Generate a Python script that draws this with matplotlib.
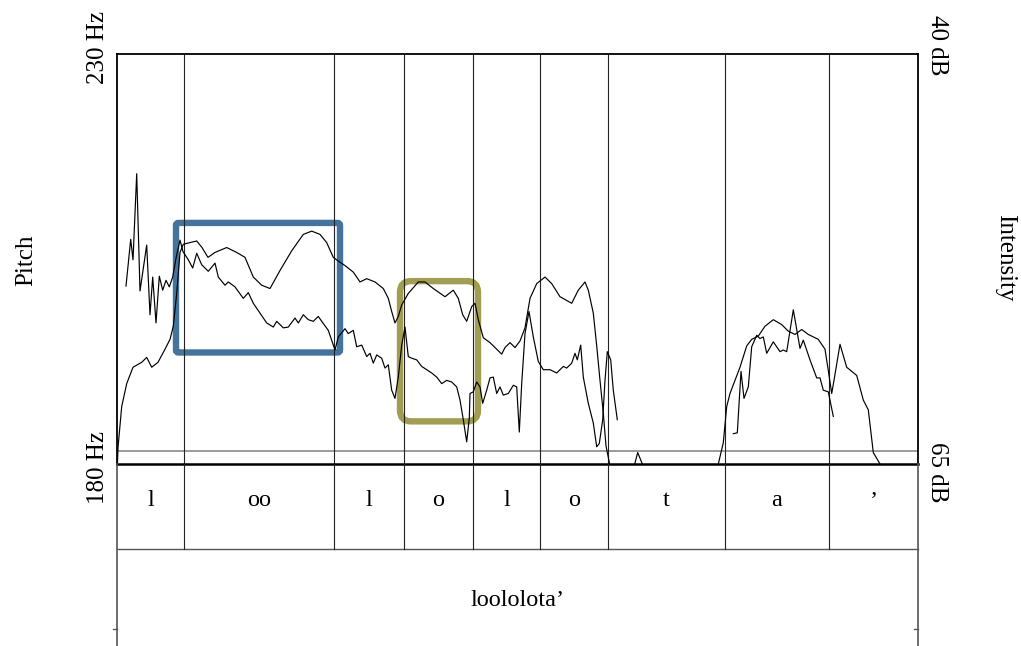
import matplotlib
matplotlib.use("Agg")
import matplotlib.pyplot as plt
from matplotlib.patches import FancyBboxPatch
from matplotlib.transforms import IdentityTransform

plt.rcParams['font.family'] = ['Liberation Serif', 'DejaVu Serif']

# ---------------- data ----------------
t_end = 0.801
boundaries = [0.067, 0.217, 0.287, 0.356, 0.423, 0.491, 0.608, 0.712]
phonemes = ["l", "oo", "l", "o", "l", "o", "t", "a", "\u2019"]
word = "loololota\u2019"

pitch1_t = [0.009, 0.0137, 0.016, 0.0197, 0.023, 0.0297, 0.033, 0.0357, 0.039, 0.0423,
            0.0457, 0.049, 0.0523, 0.0557, 0.059, 0.063, 0.066, 0.0713, 0.0757, 0.0797,
            0.0847, 0.0913, 0.098, 0.1013, 0.108, 0.1113, 0.118, 0.1263, 0.1313, 0.1363,
            0.143, 0.1497, 0.1563, 0.1597, 0.1663, 0.1713, 0.178, 0.1813, 0.1863, 0.1913,
            0.1963, 0.2013, 0.2047, 0.2113, 0.218, 0.2213, 0.228, 0.2313, 0.2363, 0.2397,
            0.2447, 0.2497, 0.253, 0.2563, 0.2597, 0.2647, 0.268, 0.2713, 0.2747, 0.278,
            0.2813, 0.2847, 0.288, 0.2913, 0.2947, 0.2997, 0.3047, 0.3097, 0.3147, 0.3197,
            0.3247, 0.3297, 0.3347, 0.3397, 0.343, 0.3463, 0.3497, 0.3523, 0.353, 0.3563,
            0.3597, 0.363, 0.3657, 0.3697, 0.373, 0.3763, 0.3797, 0.383, 0.3863, 0.3913,
            0.3963, 0.3997, 0.4023, 0.4047, 0.408, 0.412, 0.4163, 0.4213, 0.4263, 0.433,
            0.4397, 0.4463, 0.4497, 0.4547, 0.458, 0.4603, 0.4637, 0.4663, 0.4713, 0.4763,
            0.4797, 0.4823, 0.4857, 0.488, 0.4903, 0.4937, 0.4963, 0.5003]
pitch1_hz = [201.7, 207.4, 204.9, 215.4, 201.1, 206.7, 198.2, 202.8, 197.2, 202.9,
             201.2, 202.4, 201.6, 202.8, 205.1, 207.3, 205.9, 204.9, 203.9, 205.7,
             204.3, 203.5, 204.5, 202.8, 201.8, 202.2, 201.6, 200.2, 200.9, 199.6,
             198.4, 197.2, 196.7, 197.4, 196.6, 196.7, 197.8, 197.2, 198.2, 197.6,
             197.4, 198.0, 197.4, 196.3, 193.9, 195.5, 196.5, 195.9, 196.3, 194.3,
             194.5, 193.1, 193.5, 192.3, 193.3, 192.9, 191.7, 192.1, 189.0, 188.0,
             190.6, 194.5, 196.7, 193.1, 192.9, 192.7, 191.9, 191.5, 191.1, 190.6,
             189.8, 190.2, 190.0, 189.4, 187.8, 185.4, 182.7, 185.6, 188.6, 188.8,
             190.0, 189.4, 187.4, 189.0, 190.5, 190.6, 188.6, 189.4, 188.4, 188.6,
             189.6, 189.4, 183.9, 189.8, 195.9, 198.6, 195.5, 192.5, 191.5, 191.5,
             191.1, 191.9, 191.7, 192.3, 193.5, 192.7, 194.5, 190.6, 187.4, 185.0,
             182.1, 182.5, 185.4, 190.2, 193.7, 192.7, 189.0, 185.4]

pitch2_t = [0.6163, 0.6203, 0.624, 0.627, 0.6313, 0.6347, 0.6397, 0.643, 0.6463, 0.6497,
            0.6563, 0.663, 0.6663, 0.6697, 0.6763, 0.683, 0.6863, 0.693, 0.6997, 0.703,
            0.7063, 0.7113, 0.7163]
pitch2_hz = [183.7, 183.8, 191.3, 188.0, 189.4, 194.3, 195.7, 195.3, 195.5, 193.5,
             194.9, 193.7, 193.9, 193.7, 198.8, 194.1, 195.1, 192.7, 190.5, 190.5,
             189.0, 188.8, 185.8]

int_t = [0.0005, 0.001, 0.0047, 0.0097, 0.016, 0.0247, 0.0297, 0.0347, 0.041, 0.048,
         0.053, 0.0563, 0.0597, 0.063, 0.0663, 0.073, 0.0797, 0.085, 0.091, 0.098,
         0.1097, 0.1197, 0.128, 0.1363, 0.1447, 0.153, 0.163, 0.1747, 0.1863, 0.1947,
         0.203, 0.2097, 0.2163, 0.223, 0.228, 0.2363, 0.243, 0.2497, 0.258, 0.2663,
         0.2713, 0.2747, 0.278, 0.2813, 0.2847, 0.2913, 0.3013, 0.308, 0.3163, 0.328,
         0.3363, 0.3413, 0.3457, 0.3497, 0.3547, 0.358, 0.3613, 0.3663, 0.373, 0.3797,
         0.3847, 0.388, 0.393, 0.398, 0.403, 0.408, 0.413, 0.4197, 0.428, 0.4347,
         0.443, 0.4547, 0.4613, 0.468, 0.4713, 0.4763, 0.4797, 0.483, 0.4863, 0.489,
         0.4923, 0.495, 0.516, 0.5207, 0.528, 0.599, 0.6013, 0.6063, 0.6097, 0.613,
         0.618, 0.623, 0.6297, 0.6347, 0.6413, 0.648, 0.6563, 0.6647, 0.6713, 0.678,
         0.6847, 0.6913, 0.7013, 0.708, 0.7113, 0.7147, 0.717, 0.723, 0.7297, 0.7397,
         0.7463, 0.7513, 0.7563, 0.763, 0.767]
int_db = [64.9, 64.0, 61.5, 60.1, 59.1, 58.8, 58.5, 59.1, 58.8, 58.0,
          57.4, 56.6, 54.6, 52.1, 51.6, 51.5, 51.4, 51.8, 52.4, 52.1,
          51.8, 52.1, 52.4, 53.6, 54.1, 54.3, 53.2, 52.0, 51.0, 50.8,
          51.0, 51.5, 52.4, 52.7, 52.9, 53.3, 53.9, 53.7, 53.9, 54.3,
          54.9, 55.7, 56.4, 56.0, 55.3, 54.6, 53.9, 53.9, 54.3, 54.8,
          54.4, 54.9, 55.9, 56.3, 55.4, 55.2, 56.2, 57.3, 57.6, 58.0,
          58.3, 57.9, 57.6, 57.9, 57.5, 56.7, 54.9, 54.0, 53.6, 54.0,
          54.8, 55.2, 54.4, 53.9, 54.4, 55.8, 57.8, 59.9, 61.9, 63.9,
          64.9, 66.0, 65.4, 64.3, 65.4, 66.0, 65.0, 63.7, 61.5, 60.7,
          59.9, 59.1, 57.8, 57.4, 57.2, 56.6, 56.2, 56.5, 56.9, 57.1,
          56.8, 57.1, 57.4, 58.0, 59.3, 60.7, 59.9, 57.7, 59.1, 59.6,
          61.1, 61.7, 64.3, 65.0, 66.0]

pitch_range = (180, 230)
int_range = (65, 40)
ref_line_hz = 181.6

# highlight boxes (time range, Hz range)
blue_box = (0.059, 0.223, 193.6, 209.4)
olive_box = (0.283, 0.361, 185.2, 202.3)

# ---------------- figure ----------------
W, H = 1021, 646
fig = plt.figure(figsize=(W / 100, H / 100), dpi=100)
L, R, T, B = 117, 918, 54, 464
ax = fig.add_axes([L / W, 1 - B / H, (R - L) / W, (B - T) / H])
ax.set_xlim(0, t_end)
ax.set_ylim(*pitch_range)
ax.set_xticks([]); ax.set_yticks([])
for s in ax.spines.values():
    s.set_linewidth(1.3)
    s.set_color('black')
ax.spines['bottom'].set_linewidth(1.8)

ax.axhline(ref_line_hz, color='#808080', lw=1.1, zorder=1)
for b in boundaries:
    ax.axvline(b, color='#222222', lw=0.8, zorder=1.5)

ax.plot(pitch1_t, pitch1_hz, color='black', lw=0.85, zorder=3)
ax.plot(pitch2_t, pitch2_hz, color='black', lw=0.85, zorder=3)

ax2 = ax.twinx()
ax2.set_ylim(*int_range)
ax2.set_yticks([])
for s in ax2.spines.values():
    s.set_visible(False)
ax2.plot(int_t, int_db, color='black', lw=0.85, zorder=3)

# boxes drawn in pixel space (after layout is fixed)
fig.canvas.draw()
def add_box(box, color, radius, lw):
    x0, x1, y0, y1 = box
    (px0, py0), (px1, py1) = ax.transData.transform([(x0, y0), (x1, y1)])
    p = FancyBboxPatch((px0, py0), px1 - px0, py1 - py0,
                       boxstyle=f"round,pad=0,rounding_size={radius}",
                       transform=IdentityTransform(), fill=False,
                       edgecolor=color, lw=lw, zorder=0.8, clip_on=False)
    ax.add_patch(p)
add_box(blue_box, '#44749D', 2.5, 4.6)
add_box(olive_box, '#A19D52', 11, 4.6)

# ---------------- tiers ----------------
axt = fig.add_axes([L / W, 0, (R - L) / W, (H - B) / H])
axt.set_xlim(0, t_end)
axt.set_ylim(0, H - B)
axt.axis('off')
tier_split = H - 549
tier_col = '#555555'
axt.plot([0, t_end], [tier_split, tier_split], color=tier_col, lw=1.0, clip_on=False)
axt.plot([0, 0], [0, H - B], color=tier_col, lw=1.2, clip_on=False)
axt.plot([t_end, t_end], [0, H - B], color=tier_col, lw=1.2, clip_on=False)
tick_len = 0.004
axt.plot([-tick_len, 0], [H - 629, H - 629], color=tier_col, lw=1.0, clip_on=False)
axt.plot([t_end - tick_len, t_end], [H - 629, H - 629], color=tier_col, lw=1.0, clip_on=False)
for b in boundaries:
    axt.plot([b, b], [tier_split, H - B], color='#222222', lw=0.8, clip_on=False)
edges = [0] + boundaries + [t_end]
for i, ph in enumerate(phonemes):
    axt.text((edges[i] + edges[i + 1]) / 2, H - 501, ph, ha='center', va='center', fontsize=17.5)
axt.text(t_end / 2, H - 600, word, ha='center', va='center', fontsize=17.5)

# ---------------- axis texts ----------------
fig.text(98 / W, 1 - 47 / H, "230 Hz", rotation=90, ha='center', va='center', fontsize=18)
fig.text(98 / W, 1 - 467 / H, "180 Hz", rotation=90, ha='center', va='center', fontsize=18)
fig.text(937 / W, 1 - 45 / H, "40 dB", rotation=270, ha='center', va='center', fontsize=18)
fig.text(937 / W, 1 - 472 / H, "65 dB", rotation=270, ha='center', va='center', fontsize=18)
fig.text(26 / W, 1 - 260 / H, "Pitch", rotation=90, ha='center', va='center', fontsize=18)
fig.text(1005 / W, 1 - 258 / H, "Intensity", rotation=270, ha='center', va='center', fontsize=18)

fig.savefig("out.png", dpi=100)
